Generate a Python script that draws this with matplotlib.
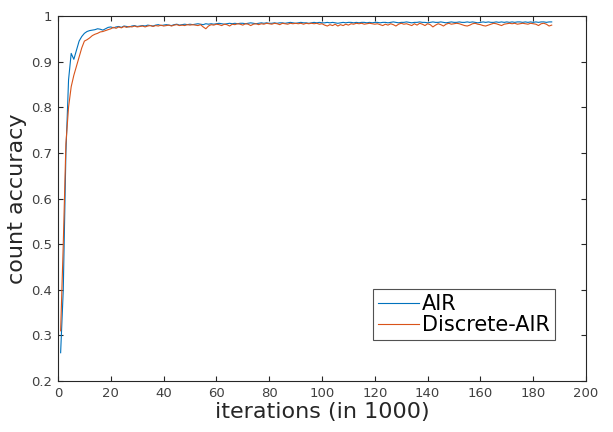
import matplotlib
matplotlib.use('Agg')
import matplotlib.pyplot as plt

# iterations (in 1000)
iterations = list(range(1, 188))

air_acc = [
    0.262, 0.400, 0.700, 0.860, 0.918, 0.905, 0.925, 0.945, 0.955, 0.962,
    0.966, 0.968, 0.969, 0.970, 0.972, 0.971, 0.969, 0.972, 0.975, 0.976,
    0.974, 0.976, 0.977, 0.975, 0.978, 0.977, 0.976, 0.978, 0.979, 0.977,
    0.978, 0.979, 0.978, 0.980, 0.979, 0.978, 0.980, 0.981, 0.979, 0.980,
    0.981, 0.980, 0.979, 0.981, 0.982, 0.980, 0.981, 0.982, 0.981, 0.982,
    0.981, 0.982, 0.983, 0.982, 0.981, 0.983, 0.982, 0.983, 0.982, 0.983,
    0.984, 0.983, 0.982, 0.983, 0.984, 0.983, 0.984, 0.983, 0.984, 0.984,
    0.983, 0.984, 0.985, 0.984, 0.983, 0.984, 0.985, 0.984, 0.985, 0.984,
    0.984, 0.985, 0.984, 0.985, 0.985, 0.984, 0.985, 0.986, 0.985, 0.984,
    0.985, 0.986, 0.985, 0.985, 0.984, 0.985, 0.986, 0.985, 0.986, 0.985,
    0.985, 0.986, 0.985, 0.986, 0.985, 0.984, 0.985, 0.986, 0.985, 0.986,
    0.986, 0.985, 0.986, 0.985, 0.986, 0.986, 0.985, 0.986, 0.985, 0.986,
    0.986, 0.985, 0.986, 0.986, 0.985, 0.986, 0.987, 0.986, 0.985, 0.986,
    0.986, 0.987, 0.986, 0.985, 0.986, 0.986, 0.987, 0.986, 0.986, 0.985,
    0.986, 0.987, 0.986, 0.986, 0.987, 0.986, 0.985, 0.986, 0.987, 0.986,
    0.986, 0.987, 0.986, 0.986, 0.987, 0.986, 0.987, 0.986, 0.985, 0.986,
    0.987, 0.986, 0.987, 0.986, 0.986, 0.987, 0.986, 0.987, 0.986, 0.987,
    0.986, 0.987, 0.986, 0.987, 0.987, 0.986, 0.987, 0.986, 0.987, 0.986,
    0.987, 0.986, 0.987, 0.987, 0.986, 0.987, 0.987,
]

discrete_air_acc = [
    0.310, 0.500, 0.720, 0.800, 0.845, 0.870, 0.890, 0.910, 0.930, 0.945,
    0.948, 0.952, 0.957, 0.960, 0.962, 0.965, 0.966, 0.968, 0.970, 0.972,
    0.975, 0.973, 0.976, 0.974, 0.977, 0.975, 0.977, 0.976, 0.978, 0.976,
    0.977, 0.978, 0.976, 0.978, 0.979, 0.977, 0.979, 0.978, 0.980, 0.978,
    0.979, 0.980, 0.978, 0.980, 0.981, 0.979, 0.980, 0.979, 0.981, 0.980,
    0.981, 0.980, 0.979, 0.981, 0.976, 0.972, 0.978, 0.981, 0.980, 0.982,
    0.981, 0.979, 0.982, 0.981, 0.978, 0.982, 0.981, 0.983, 0.982, 0.980,
    0.983, 0.982, 0.979, 0.982, 0.983, 0.981, 0.983, 0.982, 0.984, 0.983,
    0.982, 0.984, 0.983, 0.981, 0.984, 0.983, 0.982, 0.984, 0.983, 0.984,
    0.983, 0.984, 0.982, 0.984, 0.983, 0.984, 0.983, 0.984, 0.982, 0.983,
    0.980, 0.978, 0.981, 0.979, 0.982, 0.978, 0.981, 0.979, 0.982, 0.980,
    0.983, 0.982, 0.984, 0.983, 0.984, 0.982, 0.983, 0.984, 0.983, 0.982,
    0.983, 0.981, 0.979, 0.982, 0.980, 0.983, 0.981, 0.978, 0.982, 0.984,
    0.982, 0.983, 0.981, 0.979, 0.983, 0.980, 0.984, 0.982, 0.979, 0.983,
    0.981, 0.976, 0.980, 0.983, 0.981, 0.978, 0.982, 0.984, 0.982, 0.983,
    0.984, 0.983, 0.981, 0.979, 0.978, 0.980, 0.983, 0.984, 0.982, 0.981,
    0.979, 0.978, 0.980, 0.982, 0.984, 0.983, 0.981, 0.979, 0.982, 0.983,
    0.984, 0.983, 0.984, 0.982, 0.983, 0.984, 0.983, 0.982, 0.984, 0.983,
    0.982, 0.979, 0.983, 0.984, 0.982, 0.978, 0.980,
]

x_ticks = list(range(0, 201, 20))
y_ticks = [0.2, 0.3, 0.4, 0.5, 0.6, 0.7, 0.8, 0.9, 1.0]
y_tick_labels = ['0.2', '0.3', '0.4', '0.5', '0.6', '0.7', '0.8', '0.9', '1']

plt.rcParams['font.family'] = 'DejaVu Sans'

fig = plt.figure(figsize=(6.13, 4.32), dpi=100)
ax = fig.add_axes([0.0946, 0.118, 0.8614, 0.845])

ax.plot(iterations, air_acc, color='#0072BD', linewidth=0.8, label='AIR')
ax.plot(iterations, discrete_air_acc, color='#D95319', linewidth=0.8,
        label='Discrete-AIR')

ax.set_xlim(0, 200)
ax.set_ylim(0.2, 1.0)
ax.set_xticks(x_ticks)
ax.set_yticks(y_ticks)
ax.set_yticklabels(y_tick_labels)
ax.tick_params(direction='in', top=True, right=True, length=3.6, width=0.8,
               labelsize=9.5, colors='#262626', labelcolor='#404040', pad=4)
for spine in ax.spines.values():
    spine.set_linewidth(0.8)
    spine.set_color('#262626')

ax.set_xlabel('iterations (in 1000)', fontsize=16, color='#262626', labelpad=2)
ax.set_ylabel('count accuracy', fontsize=16, color='#262626', labelpad=3)

leg = ax.legend(loc='lower right', bbox_to_anchor=(0.941, 0.112),
                fontsize=15, frameon=True, fancybox=False, handlelength=1.95,
                handletextpad=0.15, borderpad=0.25, labelspacing=0.05,
                borderaxespad=0)
leg.get_frame().set_edgecolor('#262626')
leg.get_frame().set_linewidth(0.8)

fig.savefig('out.png', dpi=100)
